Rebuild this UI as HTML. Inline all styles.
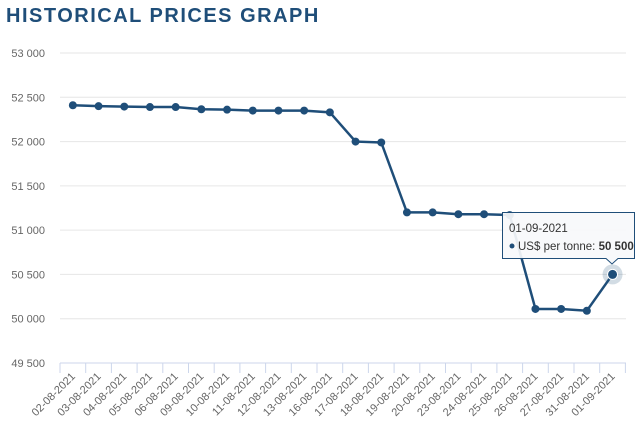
<!DOCTYPE html>
<html><head><meta charset="utf-8"><style>
body{margin:0;background:#fff;width:638px;height:426px;overflow:hidden;font-family:"Liberation Sans",sans-serif}
</style></head><body>
<svg width="638" height="426" xmlns="http://www.w3.org/2000/svg" font-family="Liberation Sans, sans-serif">
<text x="6" y="22" font-size="20" font-weight="bold" fill="#1f4e79" letter-spacing="1.5">HISTORICAL PRICES GRAPH</text>
<g id="g"></g>
</svg>
<script>
const s=document.querySelector('#g');
const vals=[52410,52400,52395,52390,52390,52365,52360,52350,52350,52350,52330,52000,51990,51200,51200,51180,51180,51170,50110,50110,50090,50500];
const labs=["02-08-2021","03-08-2021","04-08-2021","05-08-2021","06-08-2021","09-08-2021","10-08-2021","11-08-2021","12-08-2021","13-08-2021","16-08-2021","17-08-2021","18-08-2021","19-08-2021","20-08-2021","23-08-2021","24-08-2021","25-08-2021","26-08-2021","27-08-2021","31-08-2021","01-09-2021"];
const Y=v=>53+(53000-v)*0.08857;
const x0=60,w=25.7;const X=i=>x0+w*(i+0.5);
let h='';
for(let k=0;k<=7;k++){const v=53000-k*500,y=Y(v);
 h+=`<line x1="60" x2="626" y1="${y}" y2="${y}" stroke="${k==7?'#ccd6eb':'#e6e6e6'}"/>`;
 h+=`<text x="45" y="${y+4}" font-size="11" fill="#666" text-anchor="end">${String(v).replace(/(\d\d)(\d{3})/,'$1 $2')}</text>`;}
for(let i=0;i<=22;i++){const x=x0+w*i;h+=`<line x1="${x}" x2="${x}" y1="363" y2="373" stroke="#ccd6eb"/>`;}
labs.forEach((l,i)=>{const x=X(i)+3;h+=`<text transform="translate(${x},377) rotate(-45)" font-size="11" fill="#666" text-anchor="end">${l}</text>`;});
h+=`<polyline fill="none" stroke="#1f4e79" stroke-width="2.5" points="${vals.map((v,i)=>X(i)+','+Y(v)).join(' ')}"/>`;
vals.forEach((v,i)=>{if(i==21){h+=`<circle cx="${X(i)}" cy="${Y(v)}" r="10" fill="#1f4e79" opacity="0.2"/><circle cx="${X(i)}" cy="${Y(v)}" r="5" fill="#1f4e79" stroke="#fff"/>`}else h+=`<circle cx="${X(i)}" cy="${Y(v)}" r="4" fill="#1f4e79"/>`;});
h+=`<path d="M502.5 212.5 H634.5 V258.5 H618 L612 264 L606 258.5 H502.5 Z" fill="#f7f9fb" fill-opacity="0.92" stroke="#1f4e79"/>`;
h+=`<text x="509" y="232" font-size="11.5" fill="#333">01-09-2021</text>`;
h+=`<circle cx="512" cy="246" r="2.5" fill="#1f4e79"/><text x="518" y="250" font-size="11.5" fill="#333">US$ per tonne: <tspan font-weight="bold">50 500</tspan></text>`;
s.innerHTML=h;
</script>
</body></html>
